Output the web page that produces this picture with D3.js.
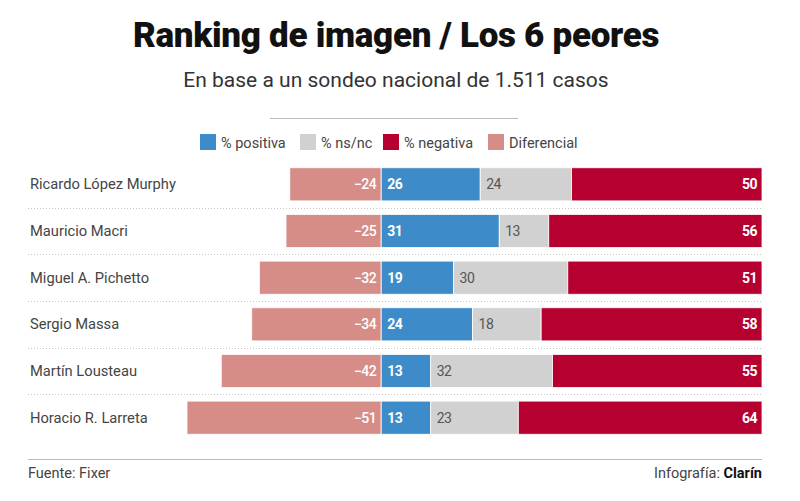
<!DOCTYPE html>
<html><head><meta charset="utf-8">
<script src="https://cdn.jsdelivr.net/npm/d3@7"></script>
<style>body{margin:0;background:#fff}svg{display:block}</style>
</head><body>
<script>
const names = ["Ricardo López Murphy","Mauricio Macri","Miguel A. Pichetto","Sergio Massa","Martín Lousteau","Horacio R. Larreta"];
const positiva = [26,31,19,24,13,13];
const nsnc = [24,13,30,18,32,23];
const negativa = [50,56,51,58,55,64];
const diferencial = [-24,-25,-32,-34,-42,-51];
const legendLabels = ["% positiva","% ns/nc","% negativa","Diferencial"];
const colors = {pos:"#3d8bc8", ns:"#d1d1d1", neg:"#b50030", dif:"#d68d87"};

const W=800,H=501;
const svg=d3.select("body").append("svg").attr("width",W).attr("height",H);
const font="Roboto, 'Noto Sans', sans-serif";

svg.append("text").attr("x",396).attr("y",47).attr("text-anchor","middle")
  .attr("font-family",font).attr("font-weight",900).attr("font-size",35).attr("letter-spacing","-0.3")
  .attr("fill","#111").text("Ranking de imagen / Los 6 peores");
svg.append("text").attr("x",396).attr("y",87).attr("text-anchor","middle")
  .attr("font-family",font).attr("font-size",21).attr("fill","#333").text("En base a un sondeo nacional de 1.511 casos");
svg.append("line").attr("x1",270).attr("x2",518).attr("y1",118.5).attr("y2",118.5).attr("stroke","#bbb");

// legend
const legColors=[colors.pos,colors.ns,colors.neg,colors.dif];
const legX=[200,300,383,488];
legendLabels.forEach((l,i)=>{
  svg.append("rect").attr("x",legX[i]).attr("y",134).attr("width",16).attr("height",16).attr("fill",legColors[i]);
  svg.append("text").attr("x",legX[i]+21).attr("y",147.5).attr("font-family",font).attr("font-size",14.5)
    .attr("fill","#444").text(l);
});

const x=d3.scaleLinear().domain([d3.min(diferencial),100]).range([187,762]);
const y=d3.scaleBand().domain(names).range([161,441]).paddingInner(0.29).paddingOuter(0.145);
const bw=y.bandwidth();

// separators
names.slice(0,-1).forEach(n=>{
  const yy=Math.round(y(n)+bw+(y.step()-bw)/2)+0.5;
  svg.append("line").attr("x1",28).attr("x2",762).attr("y1",yy).attr("y2",yy)
    .attr("stroke","#c8c8c8").attr("stroke-dasharray","1,2");
});

const rows=names.map((n,i)=>({n,pos:positiva[i],ns:nsnc[i],neg:negativa[i],dif:diferencial[i]}));
const g=svg.append("g");
rows.forEach(r=>{
  const yy=y(r.n), cy=yy+bw/2+5;
  g.append("text").attr("x",30).attr("y",cy).attr("font-family",font).attr("font-size",14.7).attr("fill","#444").text(r.n);
  const segs=[
    {x0:r.dif,x1:0,c:colors.dif,lab:"\u2212"+Math.abs(r.dif),anchor:"end",col:"#fff",w:500},
    {x0:0,x1:r.pos,c:colors.pos,lab:r.pos,anchor:"start",col:"#fff",w:700},
    {x0:r.pos,x1:r.pos+r.ns,c:colors.ns,lab:r.ns,anchor:"start",col:"#555",w:400},
    {x0:r.pos+r.ns,x1:r.pos+r.ns+r.neg,c:colors.neg,lab:r.neg,anchor:"end",col:"#fff",w:700}
  ];
  segs.forEach(s=>{
    g.append("rect").attr("x",x(s.x0)).attr("y",yy).attr("width",x(s.x1)-x(s.x0)).attr("height",bw)
      .attr("fill",s.c).attr("stroke","#fff").attr("stroke-width",0.8);
    g.append("text").attr("x",s.anchor==="end"?x(s.x1)-5:x(s.x0)+6).attr("y",cy)
      .attr("text-anchor",s.anchor).attr("font-family",font).attr("font-size",14).attr("font-weight",s.w)
      .attr("letter-spacing","-0.5").attr("fill",s.col).text(s.lab);
  });
});

svg.append("line").attr("x1",28).attr("x2",762).attr("y1",459.5).attr("y2",459.5).attr("stroke","#bbb");
svg.append("text").attr("x",28).attr("y",478).attr("font-family",font).attr("font-size",14.5).attr("fill","#444").text("Fuente: Fixer");
const t=svg.append("text").attr("x",762).attr("y",478).attr("text-anchor","end").attr("font-family",font).attr("font-size",14.5).attr("fill","#444");
t.append("tspan").text("Infografía: ");
t.append("tspan").attr("font-weight",700).attr("fill","#111").text("Clarín");
</script>
</body></html>
